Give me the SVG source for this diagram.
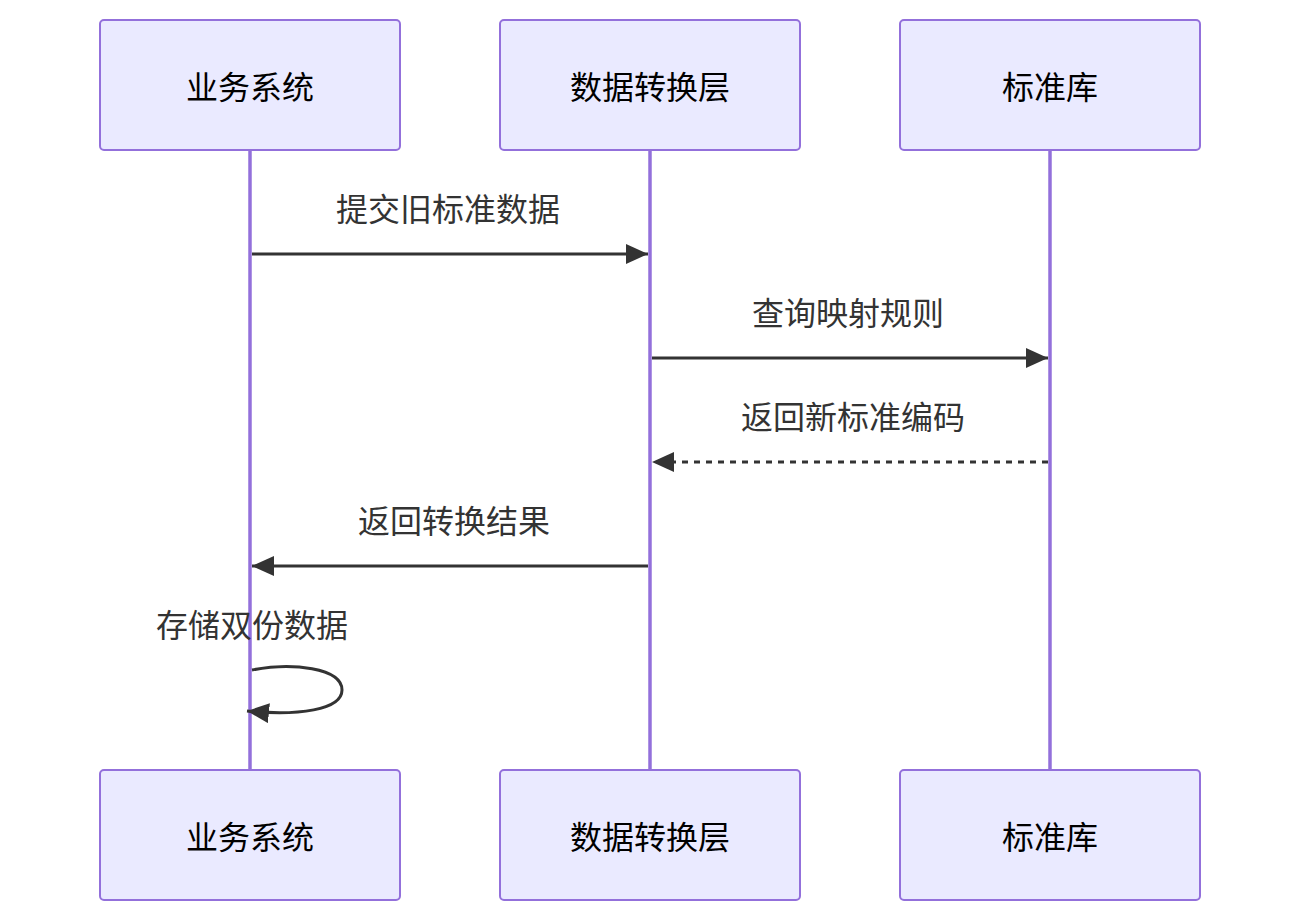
<svg xmlns="http://www.w3.org/2000/svg" width="1300" height="922" viewBox="0 0 1300 922">
<defs>
<style>
.actor{fill:#eaeaff;stroke:#9370db;stroke-width:2}
.life{stroke:#9370db;stroke-width:3.5}
.atext{font-family:"Noto Sans CJK SC","Noto Sans",sans-serif;font-size:32px;fill:#000;text-anchor:middle;dominant-baseline:central}
.mtext{font-family:"Noto Sans CJK SC","Noto Sans",sans-serif;font-size:32px;fill:#333;text-anchor:middle;dominant-baseline:central}
.msg{stroke:#333;stroke-width:3;fill:none}
.dash{stroke-dasharray:6,6}
</style>
<marker id="ah" viewBox="0 0 22 20" refX="22" refY="10" markerWidth="22" markerHeight="20" markerUnits="userSpaceOnUse" orient="auto">
<path d="M0,0 L22,10 L0,20 Z" fill="#333"/>
</marker>
</defs>
<g id="lifelines">
<line class="life" x1="250" y1="150" x2="250" y2="770"/>
<line class="life" x1="650" y1="150" x2="650" y2="770"/>
<line class="life" x1="1050" y1="150" x2="1050" y2="770"/>
</g>
<g id="actor-biz-top"><rect class="actor" x="100" y="20" width="300" height="130" rx="4"/><text class="atext" x="250" y="85">业务系统</text></g>
<g id="actor-conv-top"><rect class="actor" x="500" y="20" width="300" height="130" rx="4"/><text class="atext" x="650" y="85">数据转换层</text></g>
<g id="actor-std-top"><rect class="actor" x="900" y="20" width="300" height="130" rx="4"/><text class="atext" x="1050" y="85">标准库</text></g>
<g id="actor-biz-bottom"><rect class="actor" x="100" y="770" width="300" height="130" rx="4"/><text class="atext" x="250" y="835">业务系统</text></g>
<g id="actor-conv-bottom"><rect class="actor" x="500" y="770" width="300" height="130" rx="4"/><text class="atext" x="650" y="835">数据转换层</text></g>
<g id="actor-std-bottom"><rect class="actor" x="900" y="770" width="300" height="130" rx="4"/><text class="atext" x="1050" y="835">标准库</text></g>
<g id="connectors">
<text class="mtext" x="448" y="207">提交旧标准数据</text>
<line class="msg" x1="252" y1="254" x2="648" y2="254" marker-end="url(#ah)"/>
<text class="mtext" x="848" y="311">查询映射规则</text>
<line class="msg" x1="652" y1="358" x2="1048" y2="358" marker-end="url(#ah)"/>
<text class="mtext" x="853" y="415">返回新标准编码</text>
<line class="msg dash" x1="1048" y1="462" x2="652" y2="462" marker-end="url(#ah)"/>
<text class="mtext" x="454" y="519">返回转换结果</text>
<line class="msg" x1="648" y1="566" x2="252" y2="566" marker-end="url(#ah)"/>
<text class="mtext" x="252" y="623">存储双份数据</text>
<path class="msg" d="M252,670 C292,662 342,668 342,690 C342,710 298,716 247,711" marker-end="url(#ah)"/>
</g>
</svg>
